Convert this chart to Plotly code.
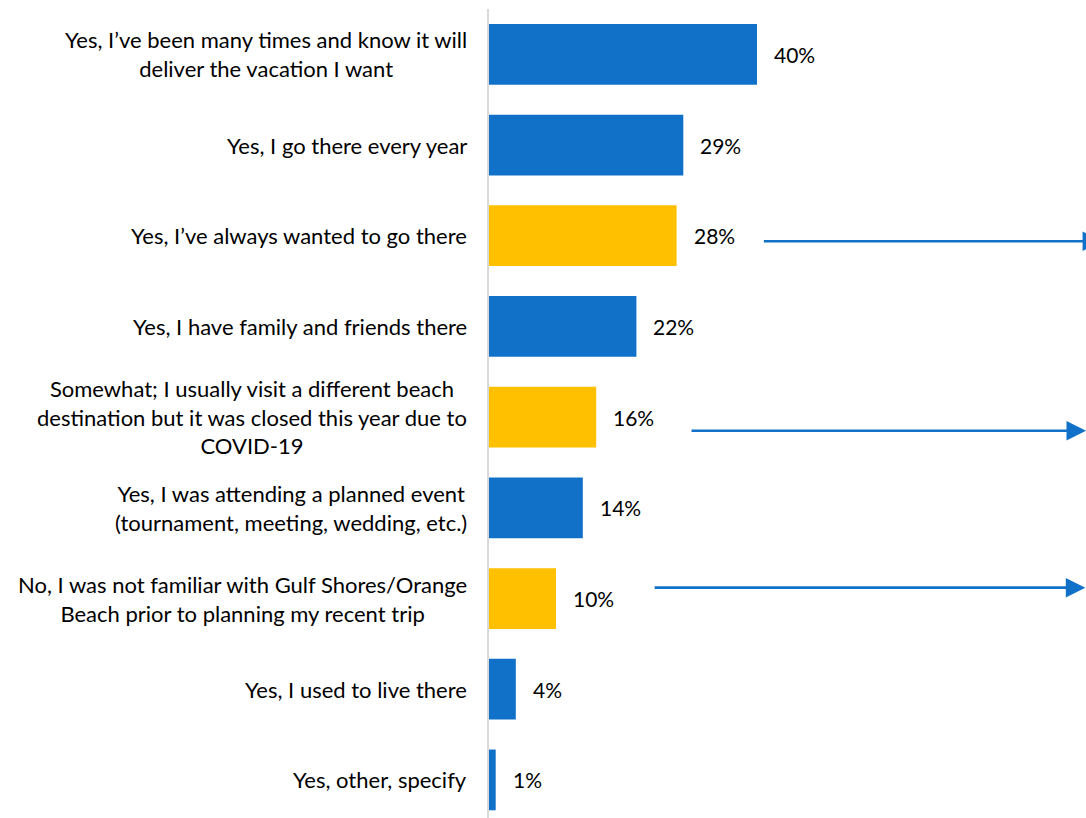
import plotly.graph_objects as go

# Survey responses, top to bottom
categories = [
    "Yes, I\u2019ve been many times and know it will<br>deliver the vacation I want",
    "Yes, I go there every year",
    "Yes, I\u2019ve always wanted to go there",
    "Yes, I have family and friends there",
    "Somewhat; I usually visit a different beach<br>destination but it was closed this year due to<br>COVID-19",
    "Yes, I was attending a planned event<br>(tournament, meeting, wedding, etc.)",
    "No, I was not familiar with Gulf Shores/Orange<br>Beach prior to planning my recent trip",
    "Yes, I used to live there",
    "Yes, other, specify",
]
values = [40, 29, 28, 22, 16, 14, 10, 4, 1]
highlighted = [False, False, True, False, True, False, True, False, False]

BLUE = "#1170C8"
GOLD = "#FFC000"
FONT = "Lato"

rows = list(range(len(categories)))
colors = [GOLD if h else BLUE for h in highlighted]

fig = go.Figure()
fig.add_trace(go.Bar(
    x=values,
    y=rows,
    orientation="h",
    marker=dict(color=colors, line=dict(width=0)),
    width=0.67,
    hoverinfo="skip",
))

# Category labels: right edge near the axis, lines centred within each block
for r, label in zip(rows, categories):
    fig.add_annotation(
        x=0, y=r, xref="paper", yref="y",
        text=label, showarrow=False,
        xanchor="right", yanchor="middle", align="center", xshift=-20,
        font=dict(family=FONT, size=22, color="#000000"),
    )

# Percentage labels to the right of each bar
for r, v in zip(rows, values):
    fig.add_annotation(
        x=v, y=r, xref="x", yref="y",
        text=f"{v}%", showarrow=False,
        xanchor="left", yanchor="middle", xshift=15,
        font=dict(family=FONT, size=21, color="#000000"),
    )

# Arrows pointing right from the highlighted rows: (row, tail x, y offset)
arrows = [(2, 40.8, 0.06), (4, 30.0, 0.15), (6, 24.5, -0.12)]
arrow_tips = {2: 91.5, 4: 89.1, 6: 89.0}
for r, tail, dy in arrows:
    fig.add_annotation(
        x=arrow_tips[r], y=r + dy, ax=tail, ay=r + dy,
        xref="x", yref="y", axref="x", ayref="y",
        text="", showarrow=True,
        arrowhead=2, arrowsize=1.5, arrowwidth=2.6, arrowcolor=BLUE,
    )

fig.update_layout(
    width=1086, height=818,
    margin=dict(l=489, r=0, t=9, b=0),
    paper_bgcolor="white", plot_bgcolor="white",
    showlegend=False,
    bargap=0.33,
    font=dict(family=FONT, size=22, color="#000000"),
)
fig.update_xaxes(
    range=[0, 89.1], showgrid=False, zeroline=False,
    showticklabels=False, showline=False,
)
fig.update_yaxes(
    range=[8.42, -0.5], showgrid=False, zeroline=False,
    showline=True, linecolor="#D9D9D9", linewidth=2,
    ticks="", showticklabels=False,
)

fig.write_html("out.html")
